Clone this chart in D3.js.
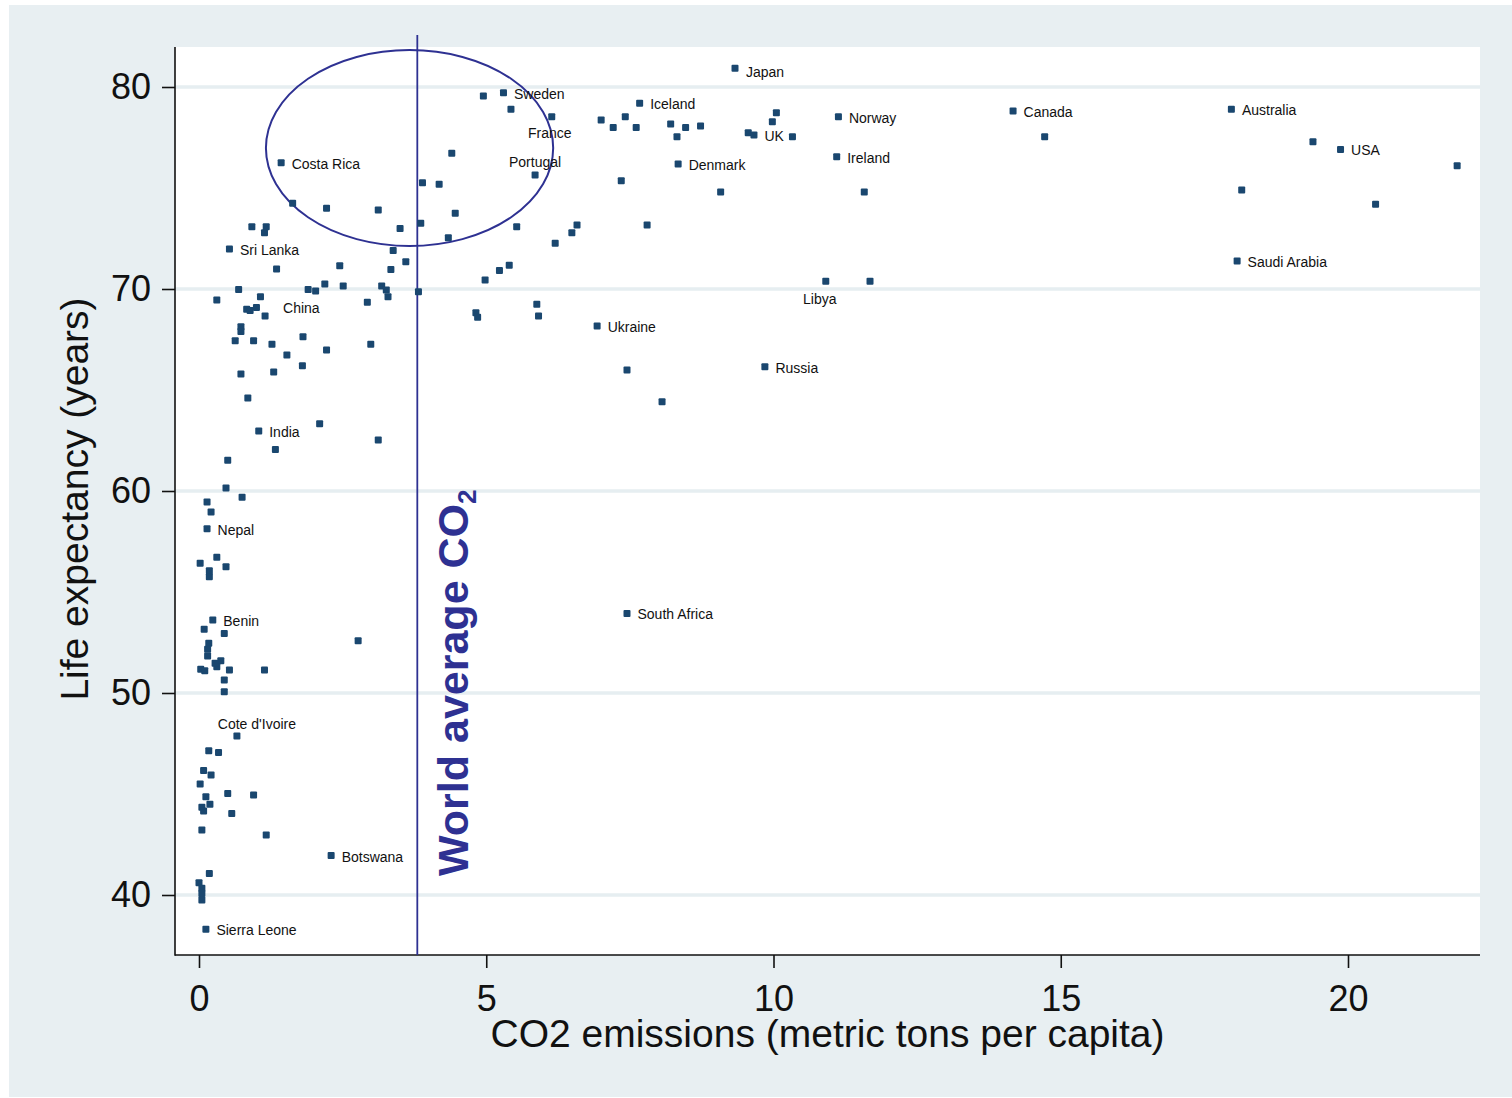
<!DOCTYPE html>
<html>
<head>
<meta charset="utf-8">
<style type="text/css">
  body{
    margin: 0;
    background: white;
  }
  text{
    font-family: 'Liberation Sans', Arial, sans-serif;
  }
</style>
</head>
<body>

<script src="https://cdn.jsdelivr.net/npm/d3@7/dist/d3.min.js"></script>

<svg id="chart" width="1512" height="1098"></svg>

<script>

// co2 emissions (metric tons per capita) vs life expectancy (years)
var co2 = [
  4.95, 5.30, 5.43, 6.14, 7.00, 7.21, 1.43, 4.40, 3.89, 4.18,
  5.85, 7.35, 1.63, 2.22, 3.12, 4.46, 3.50, 3.86, 5.53, 6.58,
  6.49, 4.34, 6.20, 0.92, 1.17, 1.14, 0.53, 3.38, 3.60, 3.34,
  2.45, 1.35, 5.23, 5.40, 4.98, 0.69, 1.90, 2.03, 2.19, 2.51,
  3.18, 3.26, 3.29, 3.82, 0.31, 0.83, 0.89, 1.00, 1.07, 1.15,
  2.93, 5.88, 4.82, 4.85, 5.91, 0.73, 0.73, 0.63, 0.95, 1.27,
  1.53, 1.81, 2.22, 2.99, 1.80, 1.30, 0.73, 0.85, 2.10, 1.04,
  3.12, 1.33, 0.50, 0.47, 0.75, 0.14, 0.21, 0.14, 0.02, 0.31,
  0.47, 0.18, 0.18, 0.24, 0.09, 0.44, 2.77, 0.17, 0.15, 0.15,
  0.38, 0.31, 0.28, 0.03, 0.10, 0.53, 1.14, 0.44, 0.44, 0.66,
  0.17, 0.34, 0.08, 0.21, 0.02, 0.50, 0.95, 0.12, 0.19, 0.05,
  0.08, 0.57, 0.05, 1.17, 0.18, 0.00, 0.05, 0.05, 0.05, 0.12,
  2.30, 9.33, 7.67, 7.42, 7.61, 8.21, 8.47, 8.32, 8.73, 10.05,
  9.98, 9.56, 9.66, 10.33, 11.13, 11.10, 8.34, 9.08, 11.58, 7.80,
  10.91, 11.68, 6.93, 7.45, 8.06, 9.85, 7.45, 14.17, 14.72, 17.97,
  19.39, 19.87, 21.90, 18.15, 20.48, 18.07
];

var lifeExp = [
  79.55, 79.72, 78.90, 78.53, 78.37, 78.00, 76.25, 76.72, 75.26, 75.18,
  75.64, 75.36, 74.24, 74.00, 73.91, 73.75, 72.99, 73.25, 73.08, 73.17,
  72.79, 72.54, 72.26, 73.08, 73.08, 72.79, 71.98, 71.90, 71.35, 70.97,
  71.15, 70.99, 70.91, 71.17, 70.45, 69.98, 69.98, 69.90, 70.25, 70.15,
  70.15, 69.95, 69.62, 69.87, 69.46, 69.00, 68.93, 69.08, 69.62, 68.66,
  69.34, 69.24, 68.83, 68.60, 68.66, 68.13, 67.89, 67.44, 67.44, 67.26,
  66.73, 67.64, 66.98, 67.26, 66.20, 65.89, 65.79, 64.60, 63.33, 62.97,
  62.52, 62.06, 61.52, 60.15, 59.69, 59.46, 58.96, 58.13, 56.42, 56.72,
  56.25, 56.05, 55.76, 53.61, 53.15, 52.95, 52.59, 52.46, 52.16, 51.83,
  51.60, 51.30, 51.47, 51.17, 51.10, 51.14, 51.14, 50.64, 50.06, 47.87,
  47.14, 47.05, 46.16, 45.94, 45.50, 45.03, 44.95, 44.87, 44.49, 44.34,
  44.16, 44.04, 43.22, 42.97, 41.07, 40.61, 40.33, 40.08, 39.75, 38.30,
  41.95, 80.93, 79.19, 78.53, 77.99, 78.17, 77.99, 77.54, 78.07, 78.73,
  78.28, 77.74, 77.62, 77.54, 78.53, 76.55, 76.19, 74.80, 74.80, 73.17,
  70.38, 70.38, 68.17, 65.99, 64.42, 66.15, 53.94, 78.81, 77.54, 78.90,
  77.29, 76.91, 76.10, 74.90, 74.19, 71.39
];

var country = [
  "", "Sweden", "", "France", "", "", "Costa Rica", "", "", "",
  "Portugal", "", "", "", "", "", "", "", "", "",
  "", "", "", "", "", "", "Sri Lanka", "", "", "",
  "", "", "", "", "", "", "", "", "", "",
  "", "", "", "", "", "", "", "", "", "China",
  "", "", "", "", "", "", "", "", "", "",
  "", "", "", "", "", "", "", "", "", "India",
  "", "", "", "", "", "", "", "Nepal", "", "",
  "", "", "", "Benin", "", "", "", "", "", "",
  "", "", "", "", "", "", "", "", "", "Cote d'Ivoire",
  "", "", "", "", "", "", "", "", "", "",
  "", "", "", "", "", "", "", "", "", "Sierra Leone",
  "Botswana", "Japan", "Iceland", "", "", "", "", "", "", "",
  "", "", "UK", "", "Norway", "Ireland", "Denmark", "", "", "",
  "Libya", "", "Ukraine", "", "", "Russia", "South Africa", "Canada", "", "Australia",
  "", "USA", "", "", "", "Saudi Arabia"
];

var yTicks = [40, 50, 60, 70, 80];
var xTicks = [0, 5, 10, 15, 20];

// world average co2 line and the circled region
var worldAvgCO2 = 3.8;
var circleCenter = [3.665, 76.98];
var circleRadius = [2.5, 4.85];

var navy = "#1a476f";
var annot = "#2e3192";

var plot = {left: 175, right: 1480, top: 47, bottom: 955};

var svg = d3.select("#chart");

var x = d3.scaleLinear().domain([0, 20]).range([199, 1348]);
var y = d3.scaleLinear().domain([40, 80]).range([895, 87]);

// background
svg.append("rect")
  .attr("x", 9).attr("y", 5)
  .attr("width", 1503).attr("height", 1092)
  .attr("fill", "#e8eff2");

svg.append("rect")
  .attr("x", plot.left).attr("y", plot.top)
  .attr("width", plot.right - plot.left)
  .attr("height", plot.bottom - plot.top)
  .attr("fill", "white");

// grid
svg.append("g").selectAll("line")
  .data(yTicks)
  .enter().append("line")
  .attr("x1", plot.left).attr("x2", plot.right)
  .attr("y1", function(d) { return y(d); })
  .attr("y2", function(d) { return y(d); })
  .attr("stroke", "#e6eef1")
  .attr("stroke-width", 3.5);

// axes
var yAxis = svg.append("g")
  .attr("transform", "translate(" + plot.left + ",0)")
  .call(d3.axisLeft(y).tickValues(yTicks).tickSize(13).tickPadding(11));

var xAxis = svg.append("g")
  .attr("transform", "translate(0," + plot.bottom + ")")
  .call(d3.axisBottom(x).tickValues(xTicks).tickSize(13).tickPadding(17));

[yAxis, xAxis].forEach(function(a) {
  a.select(".domain").remove();
  a.selectAll(".tick line").attr("stroke", "#111").attr("stroke-width", 1.6);
  a.selectAll(".tick text")
    .attr("fill", "#111")
    .style("font-size", "36px")
    .style("font-family", "'Liberation Sans', Arial, sans-serif");
});

svg.append("line")
  .attr("x1", plot.left).attr("x2", plot.left)
  .attr("y1", plot.top).attr("y2", plot.bottom + 0.8)
  .attr("stroke", "#111").attr("stroke-width", 1.6);

svg.append("line")
  .attr("x1", plot.left).attr("x2", plot.right)
  .attr("y1", plot.bottom).attr("y2", plot.bottom)
  .attr("stroke", "#111").attr("stroke-width", 1.6);

// axis titles
svg.append("text")
  .attr("x", (plot.left + plot.right) / 2)
  .attr("y", 1047)
  .attr("text-anchor", "middle")
  .style("font-size", "39px")
  .attr("fill", "#111")
  .text("CO2 emissions (metric tons per capita)");

svg.append("text")
  .attr("transform", "translate(88," + 499 + ") rotate(-90)")
  .attr("text-anchor", "middle")
  .style("font-size", "39px")
  .attr("fill", "#111")
  .text("Life expectancy (years)");

// world average line + circle
svg.append("line")
  .attr("x1", x(worldAvgCO2)).attr("x2", x(worldAvgCO2))
  .attr("y1", 35).attr("y2", plot.bottom)
  .attr("stroke", annot).attr("stroke-width", 1.8);

svg.append("ellipse")
  .attr("cx", x(circleCenter[0]))
  .attr("cy", y(circleCenter[1]))
  .attr("rx", x(circleRadius[0]) - x(0))
  .attr("ry", y(0) - y(circleRadius[1]))
  .attr("fill", "none")
  .attr("stroke", annot)
  .attr("stroke-width", 2);

var avgLabel = svg.append("text")
  .attr("transform", "translate(" + (x(worldAvgCO2) + 51) + ",876) rotate(-90)")
  .attr("fill", annot)
  .style("font-size", "43px")
  .style("font-weight", "bold");
avgLabel.append("tspan").text("World average CO");
avgLabel.append("tspan")
  .attr("dy", 8)
  .style("font-size", "26px")
  .text("2");

// points
var data = co2.map(function(d, i) {
  return {co2: d, le: lifeExp[i], name: country[i]};
});

svg.append("g").selectAll("rect")
  .data(data)
  .enter().append("rect")
  .attr("x", function(d) { return x(d.co2) - 3.5; })
  .attr("y", function(d) { return y(d.le) - 3.5; })
  .attr("width", 7)
  .attr("height", 7)
  .attr("rx", 1)
  .attr("fill", navy);

// label placement: [dx, dy, anchor], default to the right of the marker
var labelPos = {
  "France": [-2, 21, "middle"],
  "Portugal": [0, -8, "middle"],
  "Libya": [-6, 23, "middle"],
  "Cote d'Ivoire": [20, -7, "middle"],
  "China": [18, -3, "start"],
  "Japan": [11, 9, "start"]
};

svg.append("g").selectAll("text")
  .data(data.filter(function(d) { return d.name !== ""; }))
  .enter().append("text")
  .attr("x", function(d) {
    var p = labelPos[d.name] || [10.5, 6, "start"];
    return x(d.co2) + p[0];
  })
  .attr("y", function(d) {
    var p = labelPos[d.name] || [10.5, 6, "start"];
    return y(d.le) + p[1];
  })
  .attr("text-anchor", function(d) {
    var p = labelPos[d.name] || [10.5, 6, "start"];
    return p[2];
  })
  .style("font-size", "14px")
  .attr("fill", "#111")
  .text(function(d) { return d.name; });

</script>

</body>
</html>
